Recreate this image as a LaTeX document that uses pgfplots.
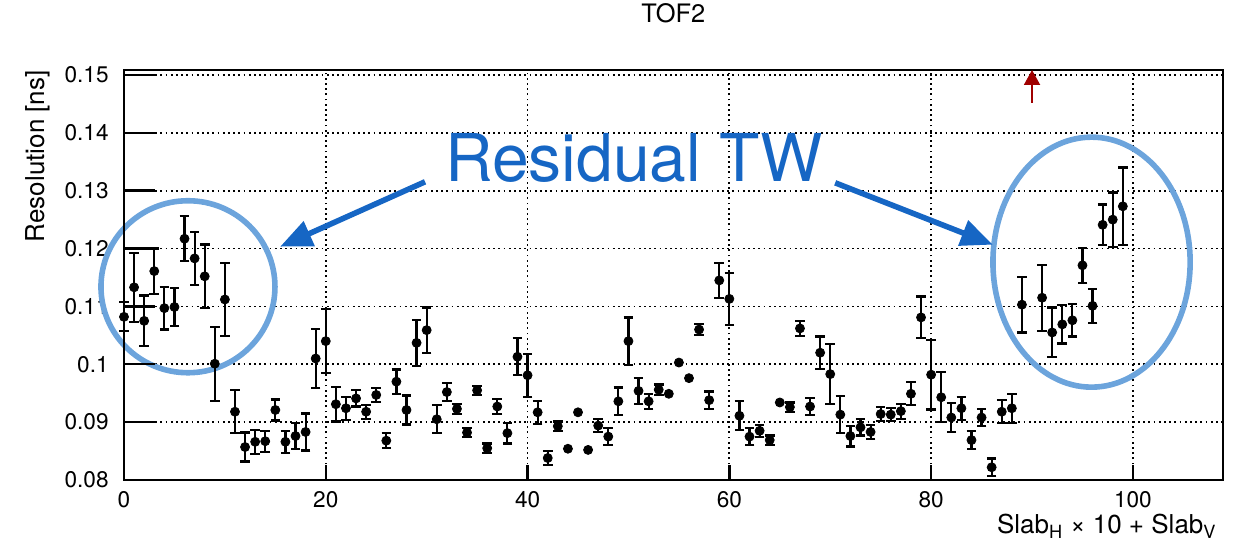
\documentclass[border=0pt]{standalone}
\usepackage{pgfplots}
\pgfplotsset{compat=1.18}
\usepackage{pgfplotstable}
\usepackage{fontspec}
\setmainfont{TeX Gyre Heros}
\usetikzlibrary{arrows.meta}
\definecolor{annoblue}{RGB}{22,102,196}
\definecolor{circblue}{RGB}{108,164,220}
\definecolor{offred}{RGB}{160,0,0}

\pgfplotstableread{
x y e
0 0.1082 0.0025
1 0.1133 0.0060
2 0.1075 0.0044
3 0.1161 0.0039
4 0.1097 0.0037
5 0.1099 0.0033
6 0.1217 0.0039
7 0.1183 0.0046
8 0.1152 0.0055
9 0.1001 0.0064
10 0.1112 0.0063
11 0.0918 0.0037
12 0.0857 0.0025
13 0.0866 0.0021
14 0.0867 0.0018
15 0.0921 0.0018
16 0.0866 0.0019
17 0.0876 0.0023
18 0.0883 0.0032
19 0.1010 0.0051
20 0.1040 0.0055
21 0.0931 0.0030
22 0.0924 0.0020
23 0.0941 0.0014
24 0.0918 0.0012
25 0.0947 0.0012
26 0.0868 0.0013
27 0.0970 0.0021
28 0.0921 0.0025
29 0.1037 0.0040
30 0.1059 0.0039
31 0.0905 0.0024
32 0.0952 0.0015
33 0.0923 0.0009
34 0.0882 0.0008
35 0.0955 0.0008
36 0.0855 0.0008
37 0.0927 0.0013
38 0.0881 0.0018
39 0.1013 0.0032
40 0.0981 0.0037
41 0.0917 0.0020
42 0.0838 0.0012
43 0.0893 0.0008
47 0.0894 0.0011
48 0.0875 0.0015
49 0.0936 0.0024
50 0.1040 0.0041
51 0.0954 0.0022
52 0.0936 0.0013
53 0.0956 0.0009
57 0.1060 0.0009
58 0.0938 0.0015
59 0.1145 0.0030
60 0.1113 0.0045
61 0.0911 0.0025
62 0.0875 0.0015
63 0.0885 0.0010
64 0.0869 0.0008
66 0.0926 0.0008
67 0.1062 0.0013
68 0.0927 0.0015
69 0.1020 0.0028
70 0.0983 0.0052
71 0.0913 0.0032
72 0.0876 0.0018
73 0.0891 0.0014
74 0.0883 0.0012
75 0.0914 0.0012
76 0.0913 0.0011
77 0.0919 0.0013
78 0.0949 0.0020
79 0.1081 0.0036
80 0.0982 0.0060
81 0.0943 0.0043
82 0.0908 0.0025
83 0.0924 0.0020
84 0.0869 0.0016
85 0.0908 0.0015
86 0.0822 0.0015
87 0.0918 0.0020
88 0.0924 0.0025
89 0.1103 0.0048
91 0.1115 0.0057
92 0.1055 0.0043
93 0.1069 0.0033
94 0.1076 0.0028
95 0.1171 0.0030
96 0.1101 0.0029
97 0.1241 0.0035
98 0.1250 0.0047
99 0.1273 0.0067
}\witherr

\pgfplotstableread{
x y
44 0.0854
45 0.0917
46 0.0852
54 0.0949
55 0.1003
56 0.0976
65 0.0934
}\noerr

\begin{document}
\begin{tikzpicture}
\begin{axis}[
  name=main,
  scale only axis, width=549.35pt, height=205pt,
  xmin=0, xmax=108.9, ymin=0.08, ymax=0.15086,
  xtick={0,20,40,60,80,100},
  ytick={0.08,0.09,0.10,0.11,0.12,0.13,0.14,0.15},
  yticklabels={0.08,0.09,0.1,0.11,0.12,0.13,0.14,0.15},
  minor tick num=0,
  scaled y ticks=false,
  /pgf/number format/assume math mode=true,
  yticklabel style={inner sep=0pt, anchor=east, xshift=-7.5pt},
  xticklabel style={inner sep=0pt, anchor=north, yshift=-5.5pt},
  tick label style={font=\fontsize{11.3}{13}\selectfont},
  tick align=inside, tick pos=left,
  major tick length=7.5pt,
  tick style={black, line width=1.2pt},
  axis line style={black, line width=1.2pt},
  grid=major,
  major grid style={black, line width=0.9pt, dash pattern=on 0.9pt off 1.7pt},
  clip=false,
  title={TOF2},
  title style={at={(axis description cs:0.5,1.1098)}, anchor=center, inner sep=0pt,
    font=\fontsize{12.7}{14}\selectfont},
  xlabel={Slab\textsubscript{H} × 10 + Slab\textsubscript{V}},
  xlabel style={at={(axis description cs:0.9948,-0.1293)}, anchor=base east, inner sep=0pt,
    font=\fontsize{13}{15}\selectfont},
  ylabel={Resolution [ns]},
  ylabel style={at={(axis description cs:-0.0674,1)}, anchor=south east, inner sep=0pt,
    rotate=0, font=\fontsize{13}{15}\selectfont},
]
% annotations
\draw[circblue, line width=2.8pt] (axis cs:6.34,0.1134) ellipse [x radius=43.5pt, y radius=43pt];
\draw[circblue, line width=2.8pt] (axis cs:95.9,0.11765) ellipse [x radius=49.3pt, y radius=62.5pt];
\draw[annoblue, line width=2.8pt, -{Triangle[length=16pt,width=13pt]}]
  (axis cs:29.84,0.13154) -- (axis cs:15.47,0.12032);
\draw[annoblue, line width=2.8pt, -{Triangle[length=16pt,width=13pt]}]
  (axis cs:70.49,0.13136) -- (axis cs:86.12,0.12067);
\node[annoblue, font=\fontsize{33}{36}\selectfont, anchor=center] at (axis cs:50.56,0.13568) {Residual TW};
\draw[offred, line width=1pt, -{Triangle[length=7.5pt,width=8pt]}]
  (axis cs:90,0.1452) -- (axis cs:90,0.15086);

\addplot[only marks, mark=*, black, mark size=2.25pt,
  error bars/.cd, y dir=both, y explicit,
  error mark=-,
  error bar style={black, line width=1.1pt},
  error mark options={rotate=90, black, line width=1.1pt, mark size=2.4pt}]
  table[x=x, y=y, y error=e] {\witherr};
\addplot[only marks, mark=*, black, mark size=2.25pt] table[x=x, y=y] {\noerr};
\end{axis}
% long y ticks (ROOT style)
\begin{axis}[
  scale only axis, width=549.35pt, height=205pt,
  xmin=0, xmax=108.9, ymin=0.08, ymax=0.15086,
  axis x line=none, axis y line*=left,
  ytick={0.08,0.09,0.10,0.11,0.12,0.13,0.14,0.15},
  yticklabels={},
  minor tick num=0,
  tick align=inside,
  major tick length=15.5pt,
  tick style={black, line width=1.2pt},
  axis line style={black, line width=1.2pt, -},
]
\end{axis}
\pgfresetboundingbox
\path (main.south west) ++(-62pt,-30.5pt) coordinate (bl);
\path (main.north east) ++(6.65pt,35pt) coordinate (tr);
\useasboundingbox (bl) rectangle (tr);
\end{tikzpicture}
\end{document}
